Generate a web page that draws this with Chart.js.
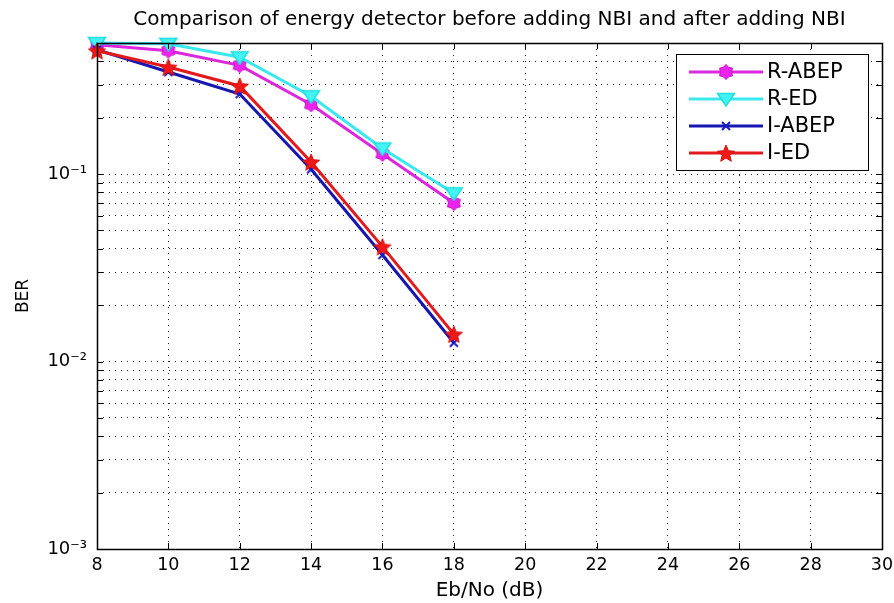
<!DOCTYPE html>
<html>
<head>
<meta charset="utf-8">
<script src="https://cdn.jsdelivr.net/npm/chart.js@4.4.0/dist/chart.umd.min.js"></script>
<style>
  html, body { margin: 0; padding: 0; background: #fff; }
</style>
</head>
<body>
<canvas id="chart01" width="894" height="603"></canvas>
<script>
// データ
var ebNo = [8, 10, 12, 14, 16, 18];
var rAbep = [0.49, 0.455, 0.38, 0.235, 0.128, 0.070];
var rEd = [0.50, 0.495, 0.42, 0.26, 0.137, 0.079];
var iAbep = [0.46, 0.35, 0.267, 0.106, 0.037, 0.0126];
var iEd = [0.455, 0.372, 0.295, 0.116, 0.041, 0.0140];

var xTicks = [8, 10, 12, 14, 16, 18, 20, 22, 24, 26, 28, 30];
var yTicks = [0.001, 0.002, 0.003, 0.004, 0.005, 0.006, 0.007, 0.008, 0.009,
  0.01, 0.02, 0.03, 0.04, 0.05, 0.06, 0.07, 0.08, 0.09,
  0.1, 0.2, 0.3, 0.4, 0.5];
var yMajor = [0.001, 0.01, 0.1];
var yMajorLabels = ['10\u207B\u00B3', '10\u207B\u00B2', '10\u207B\u00B9'];

var FONT = '"DejaVu Sans", sans-serif';

// マーカー画像
var makeMarker = function (w, h, draw) {
  var c = document.createElement('canvas');
  c.width = w;
  c.height = h;
  draw(c.getContext('2d'), w / 2, h / 2);
  return c;
};
var starPath = function (g, cx, cy, n, rOut, rIn) {
  g.beginPath();
  for (var i = 0; i < n * 2; i++) {
    var r = i % 2 === 0 ? rOut : rIn;
    var a = -Math.PI / 2 + i * Math.PI / n;
    var px = cx + r * Math.cos(a), py = cy + r * Math.sin(a);
    if (i === 0) g.moveTo(px, py); else g.lineTo(px, py);
  }
  g.closePath();
};

var mHex = makeMarker(16, 16, function (g, cx, cy) {
  starPath(g, cx, cy, 6, 7.5, 5.5);
  g.fillStyle = '#ee22ee';
  g.fill();
  g.strokeStyle = '#c018c0';
  g.lineWidth = 1;
  g.stroke();
});
var mTri = makeMarker(20, 16, function (g, cx, cy) {
  g.beginPath();
  g.moveTo(cx - 8.5, cy - 5.5);
  g.lineTo(cx + 8.5, cy - 5.5);
  g.lineTo(cx, cy + 7);
  g.closePath();
  g.fillStyle = '#44f4f4';
  g.fill();
  g.strokeStyle = '#22dede';
  g.lineWidth = 1.5;
  g.stroke();
});
var mX = makeMarker(12, 12, function (g, cx, cy) {
  g.beginPath();
  g.moveTo(cx - 4, cy - 4); g.lineTo(cx + 4, cy + 4);
  g.moveTo(cx + 4, cy - 4); g.lineTo(cx - 4, cy + 4);
  g.strokeStyle = '#1818c0';
  g.lineWidth = 2;
  g.stroke();
});
var mStar = makeMarker(20, 20, function (g, cx, cy) {
  starPath(g, cx, cy + 1, 5, 9, 4);
  g.fillStyle = '#f01818';
  g.fill();
  g.strokeStyle = '#d01010';
  g.lineWidth = 1;
  g.stroke();
});

var toPoints = function (ys) {
  return ebNo.map(function (x, i) { return { x: x, y: ys[i] }; });
};

var series = [
  { label: 'R-ABEP', data: rAbep, color: '#dc28dc', marker: mHex, order: 4 },
  { label: 'R-ED', data: rEd, color: '#3ae8ee', marker: mTri, order: 3 },
  { label: 'I-ABEP', data: iAbep, color: '#1616b0', marker: mX, order: 2 },
  { label: 'I-ED', data: iEd, color: '#e21a1e', marker: mStar, order: 1 }
];

// 凡例、枠と内向きの目盛り
var boxPlugin = {
  id: 'matlabBox',
  afterDatasetsDraw: function (chart) {
    var ctx = chart.ctx, a = chart.chartArea;
    var bx = a.right - 206, by = a.top + 11, bw = 192, bh = 116;
    ctx.save();
    ctx.fillStyle = '#fff';
    ctx.fillRect(bx, by, bw, bh);
    ctx.strokeStyle = '#000';
    ctx.lineWidth = 1;
    ctx.strokeRect(bx + 0.5, by + 0.5, bw, bh);
    ctx.font = '21px ' + FONT;
    ctx.textBaseline = 'middle';
    ctx.fillStyle = '#000';
    series.forEach(function (s, i) {
      var ry = by + 18 + i * 27;
      ctx.beginPath();
      ctx.moveTo(bx + 13, ry);
      ctx.lineTo(bx + 87, ry);
      ctx.strokeStyle = s.color;
      ctx.lineWidth = 3;
      ctx.stroke();
      ctx.drawImage(s.marker, bx + 50 - s.marker.width / 2, ry - s.marker.height / 2);
      ctx.fillText(s.label, bx + 91, ry + 1);
    });
    ctx.restore();
  },
  afterDraw: function (chart) {
    var ctx = chart.ctx, a = chart.chartArea;
    var xs = chart.scales.x, ys = chart.scales.y;
    var tl = 6;
    ctx.save();
    ctx.strokeStyle = '#000';
    ctx.lineWidth = 1;
    ctx.beginPath();
    xTicks.forEach(function (v) {
      var px = Math.round(xs.getPixelForValue(v)) + 0.5;
      ctx.moveTo(px, a.bottom); ctx.lineTo(px, a.bottom - tl);
      ctx.moveTo(px, a.top); ctx.lineTo(px, a.top + tl);
    });
    yTicks.forEach(function (v) {
      var py = Math.round(ys.getPixelForValue(v)) + 0.5;
      ctx.moveTo(a.left, py); ctx.lineTo(a.left + tl, py);
      ctx.moveTo(a.right, py); ctx.lineTo(a.right - tl, py);
    });
    ctx.stroke();
    ctx.lineWidth = 1.5;
    ctx.strokeRect(Math.round(a.left) + 0.5, Math.round(a.top) + 0.5,
      Math.round(a.right - a.left), Math.round(a.bottom - a.top));
    ctx.restore();
  }
};

var ctx = document.getElementById('chart01').getContext('2d');
var chart = new Chart(ctx, {
  type: 'line',
  data: {
    datasets: series.map(function (s) {
      return {
        label: s.label,
        data: toPoints(s.data),
        borderColor: s.color,
        backgroundColor: s.color,
        borderWidth: 3,
        pointStyle: s.marker,
        pointRadius: 6,
        tension: 0,
        clip: false,
        order: s.order
      };
    })
  },
  options: {
    responsive: false,
    animation: false,
    layout: { padding: { left: 0, right: 12, top: 0, bottom: 0 } },
    plugins: {
      legend: { display: false },
      tooltip: { enabled: false },
      title: {
        display: true,
        fullSize: false,
        text: 'Comparison of energy detector before adding NBI and after adding NBI',
        color: '#000',
        font: { family: FONT, size: 20, weight: 'normal' },
        padding: { top: 8, bottom: 11 }
      }
    },
    scales: {
      x: {
        type: 'linear',
        min: 8,
        max: 30,
        afterBuildTicks: function (s) {
          s.ticks = xTicks.map(function (v) { return { value: v }; });
        },
        afterFit: function (s) {
          s.height = 54;
          s.paddingLeft = 0;
          s.paddingRight = 0;
        },
        grid: { color: '#222', lineWidth: 1, drawTicks: false },
        border: { display: false, dash: [1, 5] },
        ticks: {
          autoSkip: false,
          maxRotation: 0,
          padding: 6,
          color: '#000',
          font: { family: FONT, size: 17.5 }
        },
        title: {
          display: true,
          text: 'Eb/No (dB)',
          color: '#000',
          font: { family: FONT, size: 20 },
          padding: { top: 0, bottom: 0 }
        }
      },
      y: {
        type: 'logarithmic',
        min: 0.001,
        max: 0.5,
        afterBuildTicks: function (s) {
          s.ticks = yTicks.map(function (v) { return { value: v }; });
        },
        afterFit: function (s) {
          s.width = 97;
          s.paddingTop = 0;
          s.paddingBottom = 0;
        },
        grid: { color: '#222', lineWidth: 1, drawTicks: false },
        border: { display: false, dash: [1, 5] },
        ticks: {
          autoSkip: false,
          padding: 10,
          color: '#000',
          font: { family: FONT, size: 18 },
          callback: function (value) {
            var k = yMajor.indexOf(value);
            return k >= 0 ? yMajorLabels[k] : '';
          }
        },
        title: {
          display: true,
          text: 'BER',
          color: '#000',
          font: { family: FONT, size: 17 },
          padding: { top: 13, bottom: 0 }
        }
      }
    }
  },
  plugins: [boxPlugin]
});
</script>
</body>
</html>
